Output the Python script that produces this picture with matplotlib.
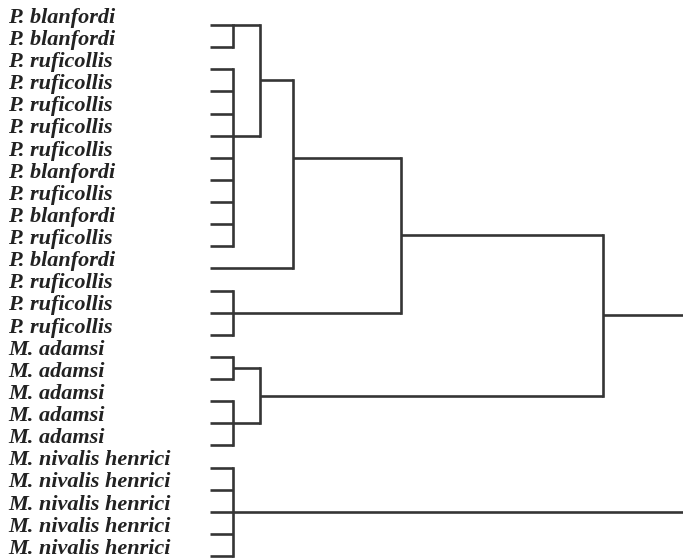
import matplotlib.pyplot as plt

# leaf labels, top to bottom
labels = [
    "P. blanfordi", "P. blanfordi",
    "P. ruficollis", "P. ruficollis", "P. ruficollis", "P. ruficollis",
    "P. ruficollis", "P. blanfordi", "P. ruficollis", "P. blanfordi",
    "P. ruficollis", "P. blanfordi",
    "P. ruficollis", "P. ruficollis", "P. ruficollis",
    "M. adamsi", "M. adamsi", "M. adamsi", "M. adamsi", "M. adamsi",
    "M. nivalis henrici", "M. nivalis henrici", "M. nivalis henrici",
    "M. nivalis henrici", "M. nivalis henrici",
]

# merge heights (linkage distance)
h_leafgroup = 2.3
h_sub = 5.0
h_blan = 8.3
h_ruf = 19.1
h_adamsi = 39.3
h_root = 50.0

# clusters: (height, children, anchor leaf or None)
A = (h_leafgroup, [0, 1], 0)
B = (h_leafgroup, list(range(2, 11)), 5)
AB = (h_sub, [A, B], None)
ABC = (h_blan, [AB, 11], 6)
D = (h_leafgroup, [12, 13, 14], None)
ABCD = (h_ruf, [ABC, D], None)
E1 = (h_leafgroup, [15, 16], None)
E2 = (h_leafgroup, [17, 18, 19], None)
E = (h_sub, [E1, E2], None)
G = (h_adamsi, [ABCD, E], None)
F = (h_leafgroup, [20, 21, 22, 23, 24], None)
root = (h_root, [G, F], None)

line_color = "#353535"
lw = 1.9


def draw(ax, node):
    # returns (y, height) of this node
    if isinstance(node, int):
        return node, 0.0
    height, children, anchor = node
    pos = [draw(ax, c) for c in children]
    ys = [p[0] for p in pos]
    for y, h in pos:
        ax.plot([h, height], [y, y], color=line_color, lw=lw, solid_capstyle="butt")
    ax.plot([height, height], [min(ys), max(ys)], color=line_color, lw=lw,
            solid_capstyle="projecting")
    if anchor is not None:
        return anchor, height
    return (ys[0] + ys[-1]) / 2, height


fig = plt.figure(figsize=(6.83, 5.60), dpi=100)
ax = fig.add_axes([0, 0, 1, 1])

draw(ax, root)

for i, name in enumerate(labels):
    ax.text(0.012, i - 0.1, name, transform=ax.get_yaxis_transform(),
            ha="left", va="baseline", fontsize=16, fontweight="bold",
            fontstyle="italic", family="Liberation Serif", color="#222222")

ax.set_xlim(-21.0, 47.3)
ax.set_ylim(24.18, -1.13)
ax.axis("off")

fig.savefig("out.png", dpi=100, facecolor="white")
